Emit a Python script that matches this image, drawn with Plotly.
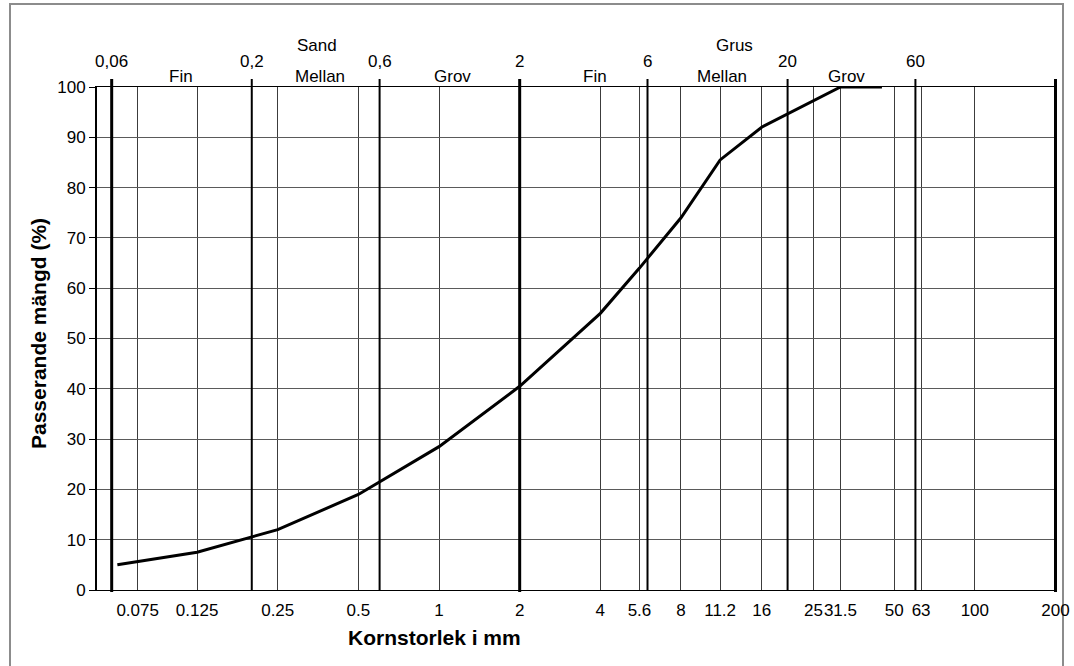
import math
import plotly.graph_objects as go

# Sieve analysis: passing percentage per sieve size (mm)
sieve_mm = [0.063, 0.125, 0.25, 0.5, 1, 2, 4, 5.6, 8, 11.2, 16, 31.5, 45]
passing_pct = [5, 7.5, 12, 19, 28.5, 40.5, 55, 64, 74, 85.5, 92, 100, 100]

# Sieve sizes shown on the grain-size axis
tick_vals = [0.075, 0.125, 0.25, 0.5, 1, 2, 4, 5.6, 8, 11.2, 16, 25, 31.5, 50, 63, 100, 200]
tick_text = ["0.075", "0.125", "0.25", "0.5", "1", "2", "4", "5.6", "8", "11.2",
             "16", "25", "31.5", "50", "63", "100", "200"]

# Fraction limits (mm) and their labels along the top
major_limits = [0.06, 2, 200]
minor_limits = [0.2, 0.6, 6, 20, 60]
limit_vals = [0.06, 0.2, 0.6, 2, 6, 20, 60]
limit_text = ["0,06", "0,2", "0,6", "2", "6", "20", "60"]

# Soil classes and sub-fractions
class_names = ["Sand", "Grus"]
class_pos = [0.35, 12.7]
fraction_names = ["Fin", "Mellan", "Grov", "Fin", "Mellan", "Grov"]
fraction_pos = [0.109, 0.358, 1.12, 3.83, 11.4, 33.3]

W, H = 1074, 666
L, R, T, B = 97, 17, 87, 76
plot_w = W - L - R
plot_h = H - T - B

FONT = "Liberation Sans, Arial, sans-serif"


def py(pixel_y):
    """Paper y coordinate for a pixel row measured from the top."""
    return (H - B - pixel_y) / plot_h


def px(pixel_x):
    """Paper x coordinate for a pixel column measured from the left."""
    return (pixel_x - L) / plot_w


fig = go.Figure()

fig.add_trace(go.Scatter(
    x=sieve_mm, y=passing_pct, mode="lines",
    line=dict(color="black", width=3),
    hoverinfo="x+y", showlegend=False,
))

top_ext = 1 + 8 / plot_h

# Fraction limit lines (extend slightly above the plot)
for v in minor_limits:
    fig.add_shape(type="line", xref="x", yref="paper",
                  x0=v, x1=v, y0=0, y1=top_ext,
                  line=dict(color="black", width=2), layer="above")
for v in major_limits:
    fig.add_shape(type="line", xref="x", yref="paper",
                  x0=v, x1=v, y0=-2 / plot_h, y1=top_ext,
                  line=dict(color="black", width=3), layer="above")

label_font = dict(family=FONT, size=17, color="black")

# Limit values along the top edge
for v, t in zip(limit_vals, limit_text):
    fig.add_annotation(x=math.log10(v), y=py(61), xref="x", yref="paper",
                       text=t, showarrow=False, xanchor="center", yanchor="middle",
                       font=label_font)

for v, t in zip(class_pos, class_names):
    fig.add_annotation(x=math.log10(v), y=py(45), xref="x", yref="paper",
                       text=t, showarrow=False, xanchor="center", yanchor="middle",
                       font=label_font)

for v, t in zip(fraction_pos, fraction_names):
    fig.add_annotation(x=math.log10(v), y=py(77), xref="x", yref="paper",
                       text=t, showarrow=False, xanchor="center", yanchor="middle",
                       font=label_font)

# Axis titles
fig.add_annotation(x=px(434), y=py(638), xref="paper", yref="paper",
                   text="<b>Kornstorlek i mm</b>", showarrow=False,
                   xanchor="center", yanchor="middle",
                   font=dict(family=FONT, size=21, color="black"))
fig.add_annotation(x=px(38), y=py(334), xref="paper", yref="paper",
                   text="<b>Passerande mängd (%)</b>", showarrow=False,
                   textangle=-90, xanchor="center", yanchor="middle",
                   font=dict(family=FONT, size=21, color="black"))

# Outer frame
fig.add_shape(type="rect", xref="paper", yref="paper",
              x0=px(10), x1=px(1063), y0=py(700), y1=py(4),
              line=dict(color="#8c8c8c", width=2), fillcolor="rgba(0,0,0,0)",
              layer="below")

x_lo = 0.06 / 2 ** (14.7 / 80.72)
x_hi = 200 * 2 ** (1.5 / 80.72)

fig.update_xaxes(
    type="log", range=[math.log10(x_lo), math.log10(x_hi)],
    tickmode="array", tickvals=tick_vals, ticktext=tick_text,
    tickangle=0, automargin=False,
    showgrid=True, gridcolor="#3c3c3c", gridwidth=1,
    showline=True, linecolor="black", linewidth=1, mirror=True,
    ticks="outside", ticklen=5, tickcolor="rgba(0,0,0,0)",
    tickfont=dict(family=FONT, size=17, color="black"),
    zeroline=False,
)
fig.update_yaxes(
    range=[0, 100], tickmode="linear", tick0=0, dtick=10,
    automargin=False,
    showgrid=True, gridcolor="#5a5a5a", gridwidth=1,
    showline=True, linecolor="black", linewidth=2,
    ticks="outside", ticklen=6, tickcolor="black", tickwidth=1,
    tickfont=dict(family=FONT, size=17, color="black"),
    zeroline=False,
)

fig.update_layout(
    width=W, height=H,
    margin=dict(l=L, r=R, t=T, b=B),
    paper_bgcolor="white", plot_bgcolor="white",
    font=dict(family=FONT, color="black"),
    showlegend=False,
)

fig.write_html("out.html")
